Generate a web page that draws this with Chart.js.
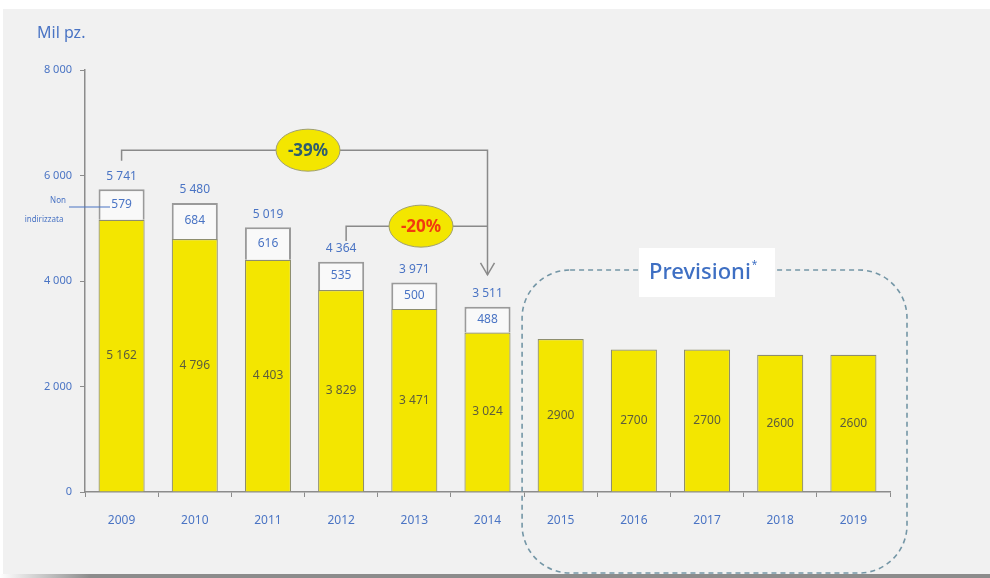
<!DOCTYPE html>
<html>
<head>
<meta charset="UTF-8">
<title>Mil pz.</title>
<script src="https://cdn.jsdelivr.net/npm/chart.js"></script>
<style>
  html, body { margin: 0; padding: 0; background: #ffffff; }
  canvas { display: block; }
</style>
</head>
<body>
<canvas id="chart" width="990" height="578"></canvas>
<script>
const anni = ['2009', '2010', '2011', '2012', '2013', '2014', '2015', '2016', '2017', '2018', '2019'];
const indirizzata = [5162, 4796, 4403, 3829, 3471, 3024, 2900, 2700, 2700, 2600, 2600];
const nonIndirizzata = [579, 684, 616, 535, 500, 488, null, null, null, null, null];
const totali = [5741, 5480, 5019, 4364, 3971, 3511, null, null, null, null, null];
const yTicks = [0, 2000, 4000, 6000, 8000];
const primoPrevisione = 6; // index of 2015

const BLUE = '#4a74c4';
const FONT = '"Noto Sans", sans-serif';
const fmt = n => String(n).replace(/\B(?=(\d{3})+(?!\d))/g, ' ');

// background frame, like the pasted slide picture
const frame = {
  id: 'frame',
  beforeDraw(chart) {
    const c = chart.ctx;
    c.save();
    c.fillStyle = '#ffffff';
    c.fillRect(0, 0, 990, 578);
    c.fillStyle = '#f1f1f1';
    c.fillRect(3, 9, 987, 566);
    const g = c.createLinearGradient(0, 0, 90, 0);
    g.addColorStop(0, '#ffffff');
    g.addColorStop(1, '#8c8c8c');
    c.fillStyle = g;
    c.fillRect(0, 574, 990, 4);
    c.restore();
  }
};

const labels = {
  id: 'labels',
  afterDatasetsDraw(chart) {
    const c = chart.ctx;
    const y = chart.scales.y;
    const m0 = chart.getDatasetMeta(0).data;
    const m1 = chart.getDatasetMeta(1).data;
    c.save();
    c.textBaseline = 'middle';

    // "Mil pz."
    c.fillStyle = BLUE;
    c.textAlign = 'left';
    c.font = '16px ' + FONT;
    c.fillText('Mil pz.', 37, 33);
    c.textAlign = 'center';

    indirizzata.forEach((v, i) => {
      const b = m0[i];
      c.font = '12px ' + FONT;
      c.fillStyle = '#5d5d3c';
      c.fillText(i >= primoPrevisione ? String(v) : fmt(v), b.x, (b.y + b.base) / 2);
      if (nonIndirizzata[i] != null) {
        const w = m1[i];
        c.fillStyle = BLUE;
        c.fillText(fmt(nonIndirizzata[i]), w.x, (w.y + w.base) / 2);
        c.fillText(fmt(totali[i]), w.x, y.getPixelForValue(totali[i]) - 13);
      }
    });

    // "Non indirizzata" callout
    c.fillStyle = BLUE;
    c.font = '8px ' + FONT;
    c.fillText('Non', 58, 201);
    c.fillText('indirizzata', 44, 220);
    c.strokeStyle = BLUE;
    c.lineWidth = 1.2;
    c.beginPath();
    c.moveTo(69, 207);
    c.lineTo(110, 207);
    c.stroke();
    c.restore();
  }
};

function ellipse(c, x, y, text, color) {
  c.beginPath();
  c.ellipse(x, y, 32, 21, 0, 0, Math.PI * 2);
  c.fillStyle = '#f3e600';
  c.fill();
  c.strokeStyle = '#a0a070';
  c.lineWidth = 1;
  c.stroke();
  c.fillStyle = color;
  c.font = 'bold 17px ' + FONT;
  c.textAlign = 'center';
  c.textBaseline = 'middle';
  c.fillText(text, x, y + 1);
}

const annotations = {
  id: 'annotations',
  afterDraw(chart) {
    const c = chart.ctx;
    const y = chart.scales.y;
    const xs = chart.getDatasetMeta(0).data.map(b => b.x);
    const ca = chart.chartArea;
    c.save();

    // -39% bracket 2009 -> 2014
    const y39 = y.getPixelForValue(6480);
    const tip = y.getPixelForValue(totali[5]) - 32;
    c.strokeStyle = '#8a8a8a';
    c.lineWidth = 1.5;
    c.beginPath();
    c.moveTo(xs[0], y.getPixelForValue(6280));
    c.lineTo(xs[0], y39);
    c.lineTo(xs[5], y39);
    c.lineTo(xs[5], tip);
    c.stroke();
    c.beginPath();
    c.moveTo(xs[5] - 7, tip - 12);
    c.lineTo(xs[5], tip);
    c.lineTo(xs[5] + 7, tip - 12);
    c.stroke();

    // -20% bracket 2012 -> 2014
    const y20 = y.getPixelForValue(5040);
    c.beginPath();
    c.moveTo(xs[3] + 5, y.getPixelForValue(4760));
    c.lineTo(xs[3] + 5, y20);
    c.lineTo(xs[5], y20);
    c.stroke();

    ellipse(c, 308, y39, '-39%', '#2e5d6e');
    ellipse(c, 421, y20, '-20%', '#f23a0e');

    // Previsioni dashed box
    const left = (xs[5] + xs[6]) / 2 - 2;
    const right = ca.right + 17;
    const top = 270, bottom = 573, r = 48;
    c.strokeStyle = '#7496a6';
    c.lineWidth = 1.6;
    c.setLineDash([5, 4]);
    c.beginPath();
    c.roundRect(left, top, right - left, bottom - top, r);
    c.stroke();
    c.setLineDash([]);

    c.fillStyle = '#ffffff';
    c.fillRect(639, 248, 136, 49);
    c.fillStyle = '#3e6fc3';
    c.font = '500 22px ' + FONT;
    c.textAlign = 'left';
    c.textBaseline = 'middle';
    c.fillText('Previsioni', 649, 273);
    const w = c.measureText('Previsioni').width;
    c.font = '10px ' + FONT;
    c.fillText('*', 649 + w + 1, 265);
    c.restore();
  }
};

new Chart(document.getElementById('chart'), {
  type: 'bar',
  data: {
    labels: anni,
    datasets: [
      {
        label: 'Indirizzata',
        data: indirizzata,
        backgroundColor: '#f3e600',
        borderColor: '#8e8e6e',
        borderWidth: 1.2
      },
      {
        label: 'Non indirizzata',
        data: nonIndirizzata,
        backgroundColor: '#f9f9f9',
        borderColor: '#9a9a9a',
        borderWidth: 2
      }
    ]
  },
  options: {
    responsive: false,
    devicePixelRatio: 1,
    animation: false,
    layout: { padding: { left: 0, top: 70, right: 100, bottom: 46 } },
    plugins: { legend: { display: false }, tooltip: { enabled: false } },
    datasets: { bar: { categoryPercentage: 1, barPercentage: 0.63 } },
    scales: {
      x: {
        stacked: true,
        afterFit: s => { s.height = 40; },
        grid: { drawOnChartArea: false, drawTicks: true, tickLength: 5, color: '#8c8c8c', offset: true },
        border: { color: '#8c8c8c', width: 1.5 },
        ticks: { color: BLUE, font: { size: 12, family: FONT }, padding: 16 }
      },
      y: {
        stacked: true,
        min: 0,
        max: 8000,
        afterFit: s => { s.width = 85; },
        afterBuildTicks: s => { s.ticks = yTicks.map(v => ({ value: v })); },
        grid: { drawOnChartArea: false, drawTicks: true, tickLength: 5, color: '#8c8c8c' },
        border: { color: '#8c8c8c', width: 1.5 },
        ticks: {
          color: BLUE,
          font: { size: 11, family: FONT },
          padding: 8,
          callback: v => fmt(v)
        }
      }
    }
  },
  plugins: [frame, labels, annotations]
});
</script>
</body>
</html>
